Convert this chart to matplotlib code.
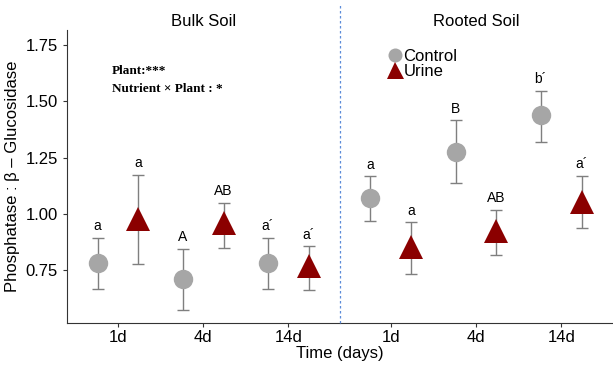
import numpy as np
import matplotlib.pyplot as plt
from matplotlib.lines import Line2D

plt.rcParams['font.family'] = ['Liberation Sans', 'DejaVu Sans']

times = ['1d', '4d', '14d']
panels = ['Bulk Soil', 'Rooted Soil']

# means and error bar limits
bulk_ctrl = [0.78, 0.71, 0.78]
bulk_ctrl_lo = [0.665, 0.571, 0.666]
bulk_ctrl_hi = [0.893, 0.846, 0.894]
bulk_urine = [0.978, 0.959, 0.769]
bulk_urine_lo = [0.779, 0.85, 0.662]
bulk_urine_hi = [1.174, 1.049, 0.857]

root_ctrl = [1.069, 1.276, 1.437]
root_ctrl_lo = [0.968, 1.135, 1.321]
root_ctrl_hi = [1.166, 1.415, 1.547]
root_urine = [0.853, 0.926, 1.051]
root_urine_lo = [0.732, 0.816, 0.938]
root_urine_hi = [0.963, 1.018, 1.169]

bulk_ctrl_lab = ['a', 'A', 'a\u00b4']
bulk_urine_lab = ['a', 'AB', 'a\u00b4']
root_ctrl_lab = ['a', 'B', 'b\u00b4']
root_urine_lab = ['a', 'AB', 'a\u00b4']

yticks = [0.75, 1.00, 1.25, 1.50, 1.75]

gray = '#a6a6a6'
red = '#8b0000'
bar_col = '#7f7f7f'

fig = plt.figure(figsize=(6.13, 3.65), dpi=100)
L, B, T = 0.109, 0.115, 0.918
W = (0.999 - L) / 2
ax1 = fig.add_axes([L, B, W, T - B])
ax2 = fig.add_axes([L + W, B, W, T - B])

panel_data = [
    (ax1, bulk_ctrl, bulk_ctrl_lo, bulk_ctrl_hi, bulk_urine, bulk_urine_lo, bulk_urine_hi,
     bulk_ctrl_lab, bulk_urine_lab),
    (ax2, root_ctrl, root_ctrl_lo, root_ctrl_hi, root_urine, root_urine_lo, root_urine_hi,
     root_ctrl_lab, root_urine_lab),
]

x = np.arange(1, len(times) + 1)
dodge = 0.24

for i, (ax, c, clo, chi, u, ulo, uhi, clab, ulab) in enumerate(panel_data):
    c = np.array(c); u = np.array(u)
    xc = x - dodge
    xu = x + dodge
    ax.errorbar(xc, c, yerr=[c - np.array(clo), np.array(chi) - c], fmt='none',
                ecolor=bar_col, elinewidth=1, capsize=4, capthick=1, zorder=2)
    ax.errorbar(xu, u, yerr=[u - np.array(ulo), np.array(uhi) - u], fmt='none',
                ecolor=bar_col, elinewidth=1, capsize=4, capthick=1, zorder=2)
    ax.plot(xc, c, 'o', color=gray, markersize=14, markeredgewidth=0, zorder=3,
            label='Control')
    ax.plot(xu, u, '^', color=red, markersize=17, markeredgewidth=0, zorder=3,
            label='Urine')
    for xi, top, lab in zip(xc, chi, clab):
        ax.text(xi, top + 0.02, lab, ha='center', va='bottom', fontsize=10)
    for xi, top, lab in zip(xu, uhi, ulab):
        ax.text(xi, top + 0.02, lab, ha='center', va='bottom', fontsize=10)

    ax.set_xlim(0.4, 3.6)
    ax.set_ylim(0.515, 1.817)
    ax.set_xticks(x)
    ax.set_xticklabels(times, fontsize=12)
    ax.set_title(panels[i], fontsize=12, pad=3)
    for s in ['top', 'right']:
        ax.spines[s].set_visible(False)
    ax.spines['bottom'].set_color('#333333')
    ax.tick_params(axis='x', length=3, color='#333333', pad=2)
    ax.patch.set_alpha(0)

ax1.set_yticks(yticks)
ax1.set_yticklabels(['%.2f' % v for v in yticks], fontsize=12)
ax1.spines['left'].set_color('#333333')
ax1.tick_params(axis='y', length=3, color='#333333')
ax1.set_ylabel('Phosphatase : \u03b2 \u2013 Glucosidase', fontsize=12)

ax2.spines['left'].set_visible(False)
ax2.tick_params(axis='y', left=False, labelleft=False)

ax1.text(0.165, 0.86, 'Plant:***', transform=ax1.transAxes, fontsize=9.5,
         fontweight='bold', family='Liberation Serif', va='center')
ax1.text(0.165, 0.80, 'Nutrient \u00d7 Plant : *', transform=ax1.transAxes, fontsize=9.5,
         fontweight='bold', family='Liberation Serif', va='center')

ax2.legend(loc='upper left', bbox_to_anchor=(0.13, 0.975), frameon=False, fontsize=12,
           handletextpad=0.0, labelspacing=0.0, handlelength=1.0, markerscale=0.72,
           borderpad=0.2)

# dashed separator between panels
fig.add_artist(Line2D([L + W, L + W], [B, 0.985], transform=fig.transFigure,
                      color='#5b8bd9', linestyle=(0, (2, 2)), linewidth=0.9))

fig.text(0.555, 0.01, 'Time (days)', ha='center', va='bottom', fontsize=12)

fig.savefig('out.png', dpi=100)
